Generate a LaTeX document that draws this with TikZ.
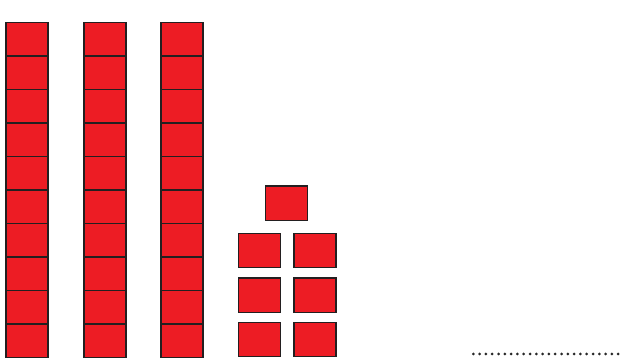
\documentclass[tikz,border=0pt]{standalone}
\usepackage{xcolor}
\usepackage{tikz}
\definecolor{cubered}{RGB}{237,28,36}
\definecolor{cubeline}{RGB}{35,31,32}
\definecolor{dotgray}{RGB}{40,40,40}

\tikzset{
  tencell/.style={draw=cubeline, fill=cubered, line width=1.4pt, minimum width=42pt, minimum height=33.5pt, inner sep=0pt, outer sep=0pt},
  onecell/.style={draw=cubeline, fill=cubered, line width=1.4pt, minimum width=42pt, minimum height=34.5pt, inner sep=0pt, outer sep=0pt},
  answerline/.style={draw=dotgray, line width=3pt, line cap=round, dash pattern=on 0pt off 6.3pt}
}

\begin{document}
\begin{tikzpicture}[x=1pt,y=1pt]
\useasboundingbox (0,0) rectangle (622,-363);
% three rods of ten
\foreach \c/\xc in {1/27,2/105,3/182}{
  \foreach \r in {0,...,9}{
    \node[tencell] (rod\c-\r) at (\xc,{-22.7-33.5*(\r+0.5)}) {};
  }
}
% seven ones
\node[onecell] (one0) at (286.5,-203.2) {};
\foreach \r/\yc in {1/250.5,2/295.2,3/339.5}{
  \node[onecell] (left\r) at (259.2,-\yc) {};
  \node[onecell] (right\r) at (315,-\yc) {};
}
% answer line
\coordinate (dotstart) at (473.3,-354);
\coordinate (dotend) at (618.3,-354);
\draw[answerline] (dotstart) -- (dotend);
\end{tikzpicture}
\end{document}
